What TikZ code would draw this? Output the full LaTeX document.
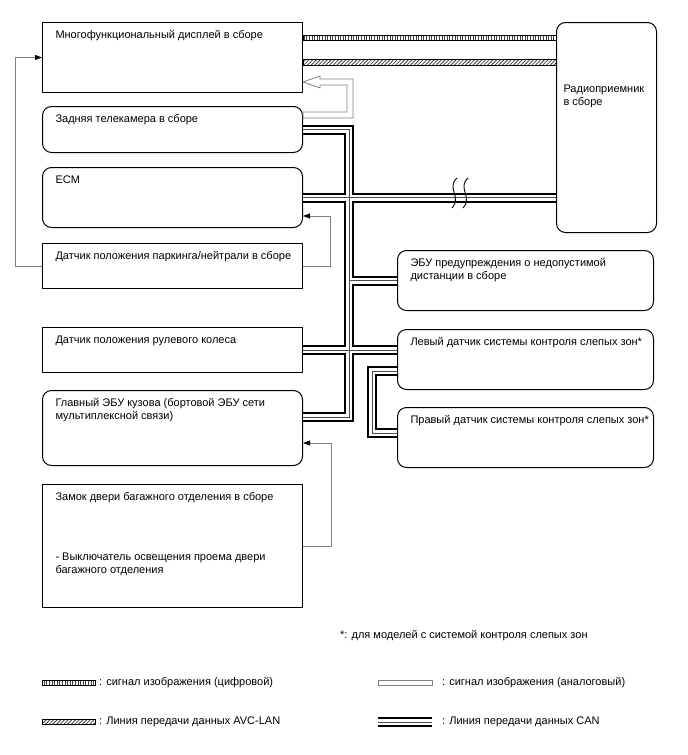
\documentclass[tikz,border=0pt]{standalone}
\usepackage{fontspec}
\setmainfont{Liberation Sans}
\usetikzlibrary{arrows.meta, calc, patterns.meta}
\definecolor{wiregray}{RGB}{128,128,128}

\newcommand{\boxtext}[3]{\parbox[c][#2][t]{#1}{\raggedright\leftskip=13pt\relax\rule{0pt}{16pt}#3}}

\begin{document}
\begin{tikzpicture}[x=1pt, y=-1pt,
    font=\fontsize{11}{13}\selectfont,
    unit/.style={draw, line width=1pt, anchor=north west, inner sep=0pt},
    roundunit/.style={unit, rounded corners=9pt},
    sig/.style={draw=wiregray, line width=0.8pt, -{Triangle[length=7pt, width=5pt, color=black]}},
    analog/.style={draw=wiregray, line width=0.8pt},
    canbus/.style={white, line width=6pt, preaction={draw=black, line width=10pt}, postaction={draw=black!70, line width=0.9pt}},
    digital/.style={line width=0.6pt, pattern={Lines[angle=90, distance=2.6pt, line width=0.9pt]}, pattern color=black!75},
    avclan/.style={line width=0.6pt, pattern={Lines[angle=45, distance=2.6pt, line width=0.8pt]}, pattern color=black!75},
    legend/.style={anchor=west, inner sep=0pt}]
  \useasboundingbox (0,0) rectangle (688,755);

  % left column
  \node[unit] (mfd) at (42,22) {\boxtext{260pt}{70pt}{Многофункциональный дисплей в сборе}};
  \node[roundunit] (cam) at (42,106) {\boxtext{260pt}{46pt}{Задняя телекамера в сборе}};
  \node[roundunit] (ecm) at (42,167) {\boxtext{260pt}{60pt}{ECM}};
  \node[unit] (park) at (42,243) {\boxtext{260pt}{45pt}{Датчик положения паркинга/нейтрали в сборе}};
  \node[unit] (steer) at (42,327) {\boxtext{260pt}{45pt}{Датчик положения рулевого колеса}};
  \node[roundunit] (becu) at (42,390) {\boxtext{260pt}{75pt}{Главный ЭБУ кузова (бортовой ЭБУ сети\\мультиплексной связи)}};
  \node[unit] (trunk) at (42,484) {\boxtext{260pt}{123pt}{Замок двери багажного отделения в сборе\\[47pt]- Выключатель освещения проема двери\\багажного отделения}};

  % right column
  \node[roundunit] (radio) at (556,22) {\parbox[c][210pt][t]{100pt}{\raggedright\leftskip=7pt\relax\rule{0pt}{70pt}Радиоприемник\\в сборе}};
  \node[roundunit] (dist) at (397,250) {\boxtext{256pt}{60pt}{ЭБУ предупреждения о недопустимой\\дистанции в сборе}};
  \node[roundunit] (lbs) at (397,329) {\boxtext{256pt}{60pt}{Левый датчик системы контроля слепых зон*}};
  \node[roundunit] (rbs) at (397,407) {\boxtext{256pt}{60pt}{Правый датчик системы контроля слепых зон*}};

  % video and AVC-LAN lines
  \draw[digital] ($(mfd.north east)+(0,13)$) rectangle ($(radio.north west)+(0,18.5)$);
  \draw[avclan] ($(mfd.north east)+(0,37)$) rectangle ($(radio.north west)+(0,43)$);

  % analog video arrow
  \coordinate (atip) at ($(mfd.south east)+(0,-11)$);
  \coordinate (atail) at ($(cam.north east)+(0,9)$);
  \draw[analog] (atip) -- ++(17,-6) -- ++(0,3) -- ++(33,0) |- ($(atail)+(0,3)$) -- ($(atail)+(0,-3)$)
    -| ($(atip)+(44,3)$) -- ($(atip)+(17,3)$) -- ($(atip)+(17,6)$) -- cycle;

  % CAN bus
  \draw[canbus] (cam.east) -- ++(46,0) coordinate (trunktop) |- ($(becu.north east)+(0,27)$)
    (ecm.east) -- (ecm.east -| radio.west)
    (dist.west -| trunktop) -- (dist.west)
    (steer.east) -- (steer.east -| lbs.west)
    ($(lbs.south west)+(0,-19)$) -- ++(-25,0) |- ($(rbs.north west)+(0,26)$);
  \draw[line width=0.9pt] (457,178) .. controls (446,188) and (462,197) .. (452,208);
  \draw[line width=0.9pt] (468,178) .. controls (457,188) and (473,197) .. (463,208);

  % signal wires
  \draw[sig] (park.west) -- ++(-27,0) |- (mfd.west);
  \draw[sig] (park.east) -- ++(27,0) |- ($(ecm.south east)+(0,-12)$);
  \draw[sig] (trunk.east) -- ++(28,0) |- ($(becu.south east)+(0,-23)$);

  % note and legend
  \node[legend] (note) at (340,636) {*: для моделей с системой контроля слепых зон};
  \draw[digital] (42,680) rectangle (95,685);
  \node[legend] (lgdig) at (99,682.5) {: сигнал изображения (цифровой)};
  \draw[avclan] (42,719) rectangle (95,724);
  \node[legend] (lgavc) at (99,721.5) {: Линия передачи данных AVC-LAN};
  \draw[analog] (378,680) rectangle (432,685);
  \node[legend] (lgana) at (442,682.5) {: сигнал изображения (аналоговый)};
  \draw[canbus] (378,722) -- (432,722);
  \node[legend] (lgcan) at (442,722) {: Линия передачи данных CAN};
\end{tikzpicture}
\end{document}
